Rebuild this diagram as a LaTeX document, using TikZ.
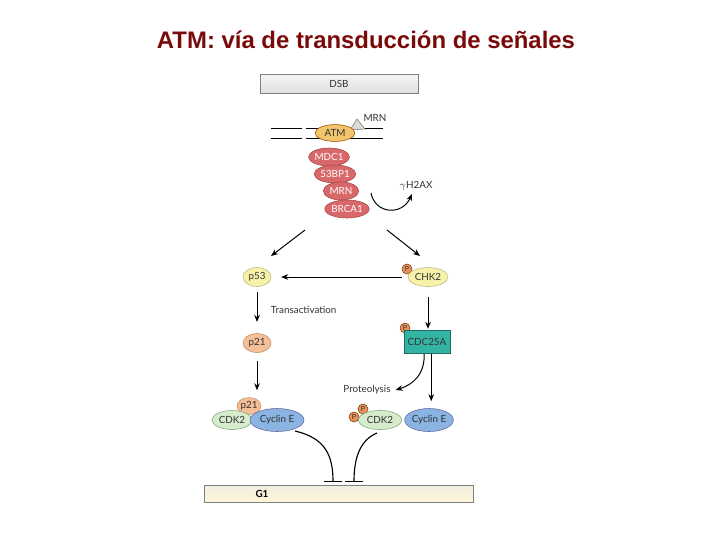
\documentclass[tikz,border=0pt]{standalone}
\usepackage{fontspec}
\setmainfont{Liberation Sans}
\newfontfamily\lblfont{Lato}
\usetikzlibrary{shapes.geometric,arrows.meta}
\definecolor{titlered}{HTML}{7A0A0A}
\definecolor{txtgray}{HTML}{333333}
\definecolor{protred}{HTML}{D9686A}
\definecolor{protredline}{HTML}{A94444}
\definecolor{atmfill}{HTML}{F2C46B}
\definecolor{yelfill}{HTML}{F8F2A8}
\definecolor{peach}{HTML}{F4BE98}
\definecolor{pfill}{HTML}{E8915E}
\definecolor{teal}{HTML}{33B3A3}
\definecolor{cdkgreen}{HTML}{D6ECCC}
\definecolor{cycblue}{HTML}{8AB4E2}
\definecolor{barbeige}{HTML}{E9E2CA}

\begin{document}
\begin{tikzpicture}[x=0.025cm,y=-0.025cm,
every node/.style={font=\lblfont\fontsize{7}{8}\selectfont,text=txtgray},
prot/.style={ellipse,draw,inner sep=0pt,line width=.4pt},
redprot/.style={prot,fill=protred,draw=protredline,text=white,
minimum width=.88cm,minimum height=.45cm},
yelprot/.style={prot,fill=yelfill,draw=yellow!50!black!60,minimum height=.475cm},
peachprot/.style={prot,fill=peach,draw=orange!60!black!60},
phos/.style={circle,draw=orange!50!black,fill=pfill,inner sep=0pt,
minimum size=.25cm,font=\lblfont\fontsize{5}{5}\selectfont},
cdk/.style={prot,fill=cdkgreen,draw=green!30!black!50,minimum height=.475cm},
cyc/.style={prot,fill=cycblue,draw=blue!40!black!60,minimum height=.575cm},
arr/.style={-{Stealth[length=5pt,width=4pt]},line width=.7pt},
inhib/.style={-{Bar[width=.47cm,line width=.8pt]},line width=.8pt}]
\useasboundingbox (0,0) rectangle (720,540);
\node[font=\bfseries\fontsize{17}{20}\selectfont,text=titlered] (title) at (366,40)
{ATM: vía de transducción de señales};
\node[draw=gray,top color=gray!8,bottom color=gray!25,
minimum width=3.95cm,minimum height=.475cm,inner sep=0pt] (dsb) at (339,84) {DSB};
\draw[line width=.7pt] (271,128) -- (302,128) (306,128) -- (383,128)
(271,138) -- (302,138) (306,138) -- (383,138);
\draw[fill=brown!20!gray!30,draw=gray] (350,130) -- (357,119) -- (365,129) -- cycle;
\node (mrntop) at (375,118) {MRN};
\node[prot,fill=atmfill,draw=orange!60!black,minimum width=1cm,minimum height=.42cm]
(atm) at (335,133) {ATM};
\node[redprot] (mdc1) at (329,157) {MDC1};
\node[redprot] (bp1) at (335,174) {53BP1};
\node[redprot] (mrn) at (341,191) {MRN};
\node[redprot] (brca1) at (347,209) {BRCA1};
\node (h2ax) at (416,186) {$\gamma$H2AX};
\coordinate (h2axa) at (371,193);
\coordinate (h2axb) at (412,194);
\draw[arr] (h2axa) .. controls (375,214) and (402,216) .. (h2axb);
\node[yelprot,minimum width=.7cm] (p53) at (257,277) {p53};
\node[phos] (pchk) at (407,269) {P};
\node[yelprot,minimum width=1cm] (chk2) at (428,277) {CHK2};
\coordinate (splitl) at (305,230);
\coordinate (splitr) at (387,230);
\draw[arr] (splitl) -- (271,256);
\draw[arr] (splitr) -- (420,256);
\draw[arr] ([xshift=-4pt]chk2.west) -- ([xshift=7pt]p53.east);
\node[anchor=west] (transact) at (266,310) {Transactivation};
\node[peachprot,minimum width=.7cm,minimum height=.475cm] (p21) at (257,343) {p21};
\draw[arr,shorten <=4pt,shorten >=8pt] (p53) -- (p21);
\node[phos] (pcdc) at (405,328) {P};
\node[draw=teal!60!black,fill=teal,minimum width=1.15cm,minimum height=.575cm,
inner sep=0pt,text=black!80] (cdc25a) at (427,342) {CDC25A};
\draw[arr,shorten <=7pt,shorten >=1pt] (chk2) -- (chk2 |- cdc25a.north);
\node[peachprot,minimum width=.55cm,minimum height=.42cm] (p21c) at (249,406) {p21};
\node[cdk,minimum width=1cm] (cdk2l) at (232,420) {CDK2};
\node[cyc,minimum width=1.35cm] (cycel) at (277,420) {Cyclin E};
\draw[arr,shorten <=6pt,shorten >=5pt] (p21) -- (p21 |- p21c.north);
\node[phos] (pa) at (363,409) {P};
\node[phos] (pb) at (354,417) {P};
\node[cdk,minimum width=1.08cm] (cdk2r) at (380,420) {CDK2};
\node[cyc,minimum width=1.12cm] (cycer) at (429,420) {Cyclin E};
\node (proteo) at (367,390) {Proteolysis};
\draw[arr] ([xshift=-2pt]cdc25a.south) .. controls (425,375) and (412,385) .. (proteo.east);
\draw[arr,shorten >=5pt] ([xshift=3pt]cdc25a.south) -- ([xshift=3pt]cdc25a.south |- cycer.north);
\node[draw=gray,top color=barbeige!60,bottom color=barbeige!120!gray,
minimum width=6.73cm,minimum height=.425cm,inner sep=0pt] (g1bar) at (338.5,493.5) {};
\node[font=\lblfont\bfseries\fontsize{7}{8}\selectfont,text=black] (g1) at (262,494) {G1};
\coordinate (g1l) at (333,482);
\coordinate (g1r) at (354,482);
\draw[inhib] (295,431) .. controls (325,438) and (333,455) .. (g1l);
\draw[inhib] (377,433) .. controls (360,440) and (354,458) .. (g1r);
\end{tikzpicture}
\end{document}
